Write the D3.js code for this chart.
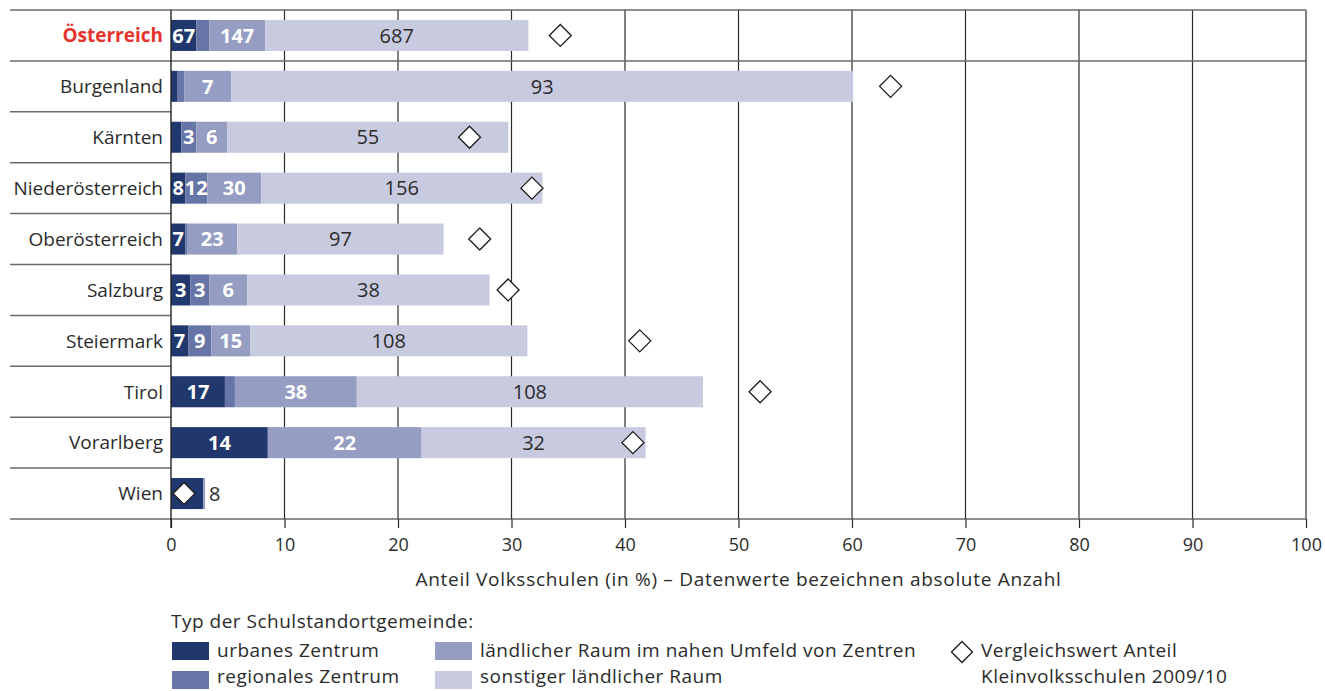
<!DOCTYPE html>
<html lang="de">
<head>
<meta charset="utf-8">
<script src="https://cdn.jsdelivr.net/npm/d3@7"></script>
<style>
  html, body { margin: 0; padding: 0; background: #fff; }
  svg { display: block; font-family: "Open Sans", "Noto Sans", sans-serif; }
</style>
</head>
<body>
<svg id="chart" width="1325" height="691"></svg>
<script>
// Bundesländer (first row: Austria total)
const categories = ["Österreich", "Burgenland", "Kärnten", "Niederösterreich", "Oberösterreich",
                    "Salzburg", "Steiermark", "Tirol", "Vorarlberg", "Wien"];

// share of primary schools (%) per type of school location
const pctUrban    = [2.23, 0.53, 0.91, 1.26, 1.26, 1.70, 1.51, 4.75, 8.53, 2.85];
const pctRegional = [1.13, 0.63, 1.32, 1.94, 0.15, 1.66, 2.04, 0.88, 0.00, 0.00];
const pctNear     = [4.93, 4.15, 2.73, 4.74, 4.43, 3.36, 3.42, 10.74, 13.55, 0.15];
const pctOther    = [23.20, 54.79, 24.77, 24.78, 18.18, 21.35, 24.43, 30.50, 19.73, 0.00];

// absolute number of schools (null = not labelled)
const cntUrban    = [67, null, null, 8, 7, 3, 7, 17, 14, 8];
const cntRegional = [null, null, 3, 12, null, 3, 9, null, null, null];
const cntNear     = [147, 7, 6, 30, 23, 6, 15, 38, 22, null];
const cntOther    = [687, 93, 55, 156, 97, 38, 108, 108, 32, null];

// comparison value: share of small primary schools 2009/10 (%)
const compare2009 = [34.3, 63.4, 26.3, 31.8, 27.2, 29.7, 41.3, 51.9, 40.7, 1.15];

const xTicks = [0, 10, 20, 30, 40, 50, 60, 70, 80, 90, 100];

const seriesNames = ["urbanes Zentrum", "regionales Zentrum",
                     "ländlicher Raum im nahen Umfeld von Zentren", "sonstiger ländlicher Raum"];
const seriesColors = ["#21386f", "#6674a6", "#959dc3", "#c8cadf"];
const labelColors  = ["#fff", "#fff", "#fff", "#2b2b2b"];
const labelWeights = [700, 700, 700, 400];

const svg = d3.select("#chart");

const plotLeft = 171, plotRight = 1306, plotTop = 10, plotBottom = 519, labelLeft = 10;

const x = d3.scaleLinear().domain([0, 100]).range([plotLeft, plotRight]);
const y = d3.scaleBand().domain(categories).range([plotTop, plotBottom]).paddingInner(0.39).paddingOuter(0.195);
const yRow = d3.scaleBand().domain(categories).range([plotTop, plotBottom]);

// build stacked rows
const pcts = [pctUrban, pctRegional, pctNear, pctOther];
const cnts = [cntUrban, cntRegional, cntNear, cntOther];
const rows = categories.map((c, i) => {
  let acc = 0;
  return pcts.map((arr, s) => {
    const seg = { cat: c, s, x0: acc, x1: acc + arr[i], count: cnts[s][i], idx: i };
    acc += arr[i];
    return seg;
  });
});

// vertical grid lines
const gGrid = svg.append("g");
gGrid.selectAll("line.grid").data(xTicks.slice(1)).join("line")
  .attr("x1", d => x(d)).attr("x2", d => x(d))
  .attr("y1", plotTop).attr("y2", plotBottom)
  .attr("stroke", "#2a2a2a").attr("stroke-width", 1.2);

// bars
const gBars = svg.append("g");
rows.forEach(segs => {
  gBars.selectAll(null).data(segs.filter(d => d.x1 > d.x0)).join("rect")
    .attr("x", d => x(d.x0))
    .attr("width", d => x(d.x1) - x(d.x0))
    .attr("y", d => y(d.cat))
    .attr("height", y.bandwidth())
    .attr("fill", d => seriesColors[d.s]);
});

// value labels (absolute counts)
const gLabels = svg.append("g").attr("font-size", 20);
rows.forEach(segs => {
  const nonEmpty = segs.filter(d => d.x1 > d.x0 && d.count != null);
  const single = segs.filter(d => d.x1 - d.x0 > 0.5).length === 1;
  nonEmpty.forEach(d => {
    const cy = y(d.cat) + y.bandwidth() / 2;
    if (single) {
      const end = d3.max(segs, e => e.x1);
      gLabels.append("text")
        .attr("x", x(end) + 4).attr("y", cy).attr("dy", "0.36em")
        .attr("fill", "#2b2b2b").attr("font-weight", 400)
        .text(d.count);
    } else {
      gLabels.append("text")
        .attr("x", (x(d.x0) + x(d.x1)) / 2).attr("y", cy).attr("dy", "0.36em")
        .attr("text-anchor", "middle")
        .attr("fill", labelColors[d.s]).attr("font-weight", labelWeights[d.s])
        .text(d.count);
    }
  });
});

// comparison diamonds
const dHalf = 11;
const diamond = (cx, cy, h) => `M${cx},${cy - h}L${cx + h},${cy}L${cx},${cy + h}L${cx - h},${cy}Z`;
svg.append("g").selectAll("path").data(compare2009).join("path")
  .attr("d", (v, i) => diamond(x(v), y(categories[i]) + y.bandwidth() / 2, dHalf))
  .attr("fill", "#fff").attr("stroke", "#1a1a1a").attr("stroke-width", 1.3);

// row separators in the label column; the first one spans the whole chart
const gSep = svg.append("g");
categories.slice(1).forEach((c, i) => {
  gSep.append("line")
    .attr("x1", labelLeft).attr("x2", i === 0 ? plotRight : plotLeft)
    .attr("y1", yRow(c)).attr("y2", yRow(c))
    .attr("stroke", "#6a6a6a").attr("stroke-width", 1.5);
});
gSep.append("line").attr("x1", labelLeft).attr("x2", plotRight).attr("y1", plotTop).attr("y2", plotTop)
  .attr("stroke", "#6a6a6a").attr("stroke-width", 1.5);
gSep.append("line").attr("x1", labelLeft).attr("x2", plotRight).attr("y1", plotBottom).attr("y2", plotBottom)
  .attr("stroke", "#6a6a6a").attr("stroke-width", 1.5);

// category labels
svg.append("g").selectAll("text").data(categories).join("text")
  .attr("x", plotLeft - 8)
  .attr("y", d => yRow(d) + yRow.bandwidth() / 2)
  .attr("dy", "0.36em")
  .attr("text-anchor", "end")
  .attr("font-size", 19)
  .attr("font-weight", (d, i) => i === 0 ? 700 : 400)
  .attr("fill", (d, i) => i === 0 ? "#e4342b" : "#2b2b2b")
  .text(d => d);

// x axis
const xAxis = d3.axisBottom(x).tickValues(xTicks).tickSize(9).tickPadding(10).tickFormat(d3.format("d"));
const gAx = svg.append("g").attr("transform", `translate(0,${plotBottom})`).call(xAxis);
gAx.select(".domain").remove();
gAx.selectAll(".tick line").attr("stroke", "#2a2a2a").attr("stroke-width", 1.2);
gAx.selectAll(".tick text").attr("font-size", 18).attr("fill", "#2b2b2b")
  .attr("font-family", "'Open Sans', 'Noto Sans', sans-serif");
// axis line at zero
svg.append("line").attr("x1", x(0)).attr("x2", x(0)).attr("y1", plotTop).attr("y2", plotBottom + 9)
  .attr("stroke", "#222").attr("stroke-width", 1.4);

svg.append("text")
  .attr("x", (plotLeft + plotRight) / 2).attr("y", 579).attr("dy", "0.36em")
  .attr("text-anchor", "middle").attr("font-size", 19).attr("letter-spacing", 0.7)
  .attr("fill", "#2b2b2b")
  .text("Anteil Volksschulen (in %) – Datenwerte bezeichnen absolute Anzahl");

// legend
const gLeg = svg.append("g").attr("font-size", 19).attr("letter-spacing", 0.5).attr("fill", "#2b2b2b");
gLeg.append("text").attr("x", 171).attr("y", 621).attr("dy", "0.36em").text("Typ der Schulstandortgemeinde:");
const legPos = [[172, 651, 650], [172, 680, 676], [435, 651, 650], [435, 680, 676]];
seriesNames.forEach((name, s) => {
  const [lx, ly, ty] = legPos[s];
  gLeg.append("rect").attr("x", lx).attr("y", ly - 9).attr("width", 37).attr("height", 18)
    .attr("fill", seriesColors[s]);
  gLeg.append("text").attr("x", lx + 45).attr("y", ty).attr("dy", "0.36em").text(name);
});
gLeg.append("path").attr("d", diamond(962, 652, 10.5))
  .attr("fill", "#fff").attr("stroke", "#1a1a1a").attr("stroke-width", 1.3);
gLeg.append("text").attr("x", 981).attr("y", 650).attr("dy", "0.36em").text("Vergleichswert Anteil");
gLeg.append("text").attr("x", 981).attr("y", 676).attr("dy", "0.36em").text("Kleinvolksschulen 2009/10");
</script>
</body>
</html>
